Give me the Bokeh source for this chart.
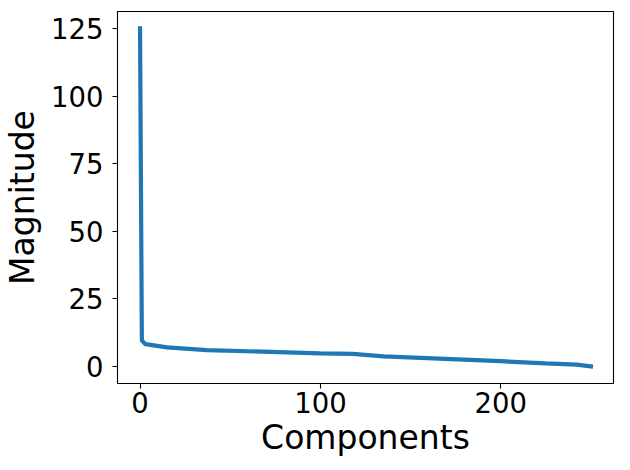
from bokeh.plotting import figure
from bokeh.models import Range1d, FixedTicker
from bokeh.embed import file_html
from bokeh.resources import INLINE

components = [0, 1, 3, 15, 37, 100, 118, 135, 200, 225, 242, 250]
magnitude = [125.0, 9.6, 8.3, 7.1, 6.1, 4.9, 4.7, 3.8, 2.0, 1.2, 0.7, 0.1]
x_ticks = [0, 100, 200]
y_ticks = [0, 25, 50, 75, 100, 125]

p = figure(width=628, height=468, output_backend="svg", toolbar_location=None,
           x_range=Range1d(-12.5, 262.5), y_range=Range1d(-6.25, 131.25),
           min_border_left=116, min_border_right=15, min_border_top=11, min_border_bottom=85)

p.line(components, magnitude, line_color="#1f77b4", line_width=4.2, line_cap="square")

p.xgrid.visible = False
p.ygrid.visible = False
p.outline_line_color = "black"
p.outline_line_width = 1.1
p.background_fill_color = "white"
p.border_fill_color = "white"

p.xaxis.ticker = FixedTicker(ticks=x_ticks)
p.yaxis.ticker = FixedTicker(ticks=y_ticks)
for ax in (p.xaxis[0], p.yaxis[0]):
    ax.axis_line_color = None
    ax.major_tick_out = 5
    ax.major_tick_in = 0
    ax.major_tick_line_color = "black"
    ax.major_tick_line_width = 1.1
    ax.minor_tick_line_color = None
    ax.major_label_text_font = "DejaVu Sans"
    ax.major_label_text_font_size = "27.5px"
    ax.major_label_text_color = "black"
    ax.axis_label_text_font = "DejaVu Sans"
    ax.axis_label_text_font_size = "33px"
    ax.axis_label_text_font_style = "normal"
    ax.axis_label_text_color = "black"

p.xaxis.major_label_standoff = 3
p.yaxis.major_label_standoff = 9
p.xaxis.axis_label = "Components"
p.yaxis.axis_label = "Magnitude"
p.xaxis.axis_label_standoff = 2
p.yaxis.axis_label_standoff = 6

open("out.html", "w").write(file_html(p, INLINE))
